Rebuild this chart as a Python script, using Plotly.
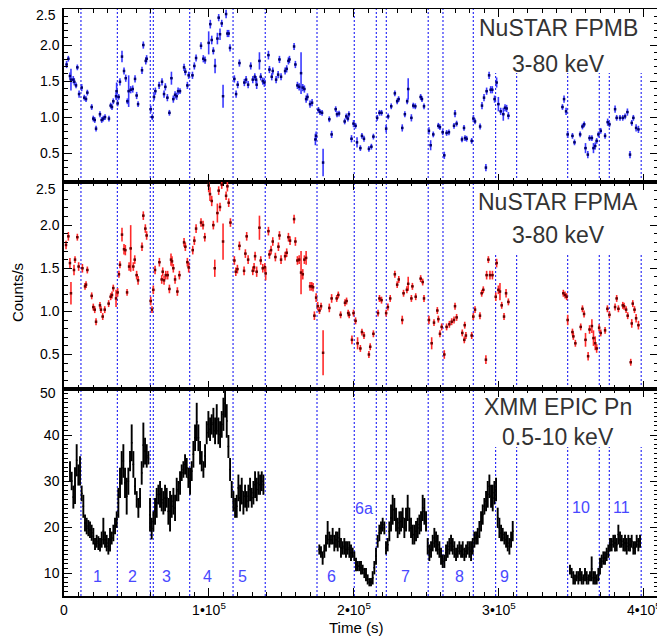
import numpy as np
import plotly.graph_objects as go
from plotly.subplots import make_subplots

# ---------------- NuSTAR FPMB (time in ks, counts/s, 1-sigma error) ----------------
fpmb_t = [1.8,3.0,4.1,4.8,6.4,7.1,8.3,9.2,10.4,12.2,14.0,15.2,16.1,19.1,20.2,21.2,22.1,24.8,26.0,27.1,28.3,31.0,32.2,33.1,34.0,35.9,36.3,37.0,37.7,38.6,
          40.0,41.4,42.6,43.7,44.6,46.0,47.4,49.0,50.1,51.1,53.8,54.7,56.4,57.0,59.8,60.9,62.1,63.0,65.6,67.6,69.0,69.9,71.3,72.7,74.1,75.4,76.6,77.7,78.7,80.0,
          82.8,83.7,85.1,86.0,88.6,89.9,91.1,94.5,96.1,97.3,99.8,100.9,101.9,103.0,104.2,105.8,106.7,107.6,108.8,109.7,111.8,112.7,113.6,114.5,
          117.5,118.7,119.8,121.0,124.4,125.6,127.0,128.8,130.2,131.6,132.5,132.9,134.8,135.7,137.1,138.2,141.0,141.7,143.3,144.0,146.3,147.7,148.6,149.7,
          152.5,153.6,154.8,155.5,158.7,159.6,161.0,162.2,163.5,164.7,165.8,167.0,167.9,169.7,171.1,173.4,173.9,175.5,176.6,178.0,178.7,
          183.0,184.6,187.4,188.3,189.7,193.6,194.7,195.8,196.5,198.3,199.7,201.1,202.1,204.4,205.5,206.9,210.3,212.0,213.4,216.0,217.6,219.0,
          222.2,223.6,225.7,228.2,229.8,230.8,233.3,235.1,236.7,237.4,239.6,240.9,242.3,246.0,246.9,248.3,251.7,252.9,254.7,258.2,259.3,261.2,262.3,263.9,265.5,
          269.0,269.7,270.8,274.5,275.9,276.6,277.7,281.2,282.4,283.5,287.0,288.3,289.7,291.0,291.5,293.2,294.3,295.4,297.0,298.4,299.6,301.2,303.0,304.2,305.3,306.5,
          343.8,344.9,346.3,347.4,350.7,352.1,356.0,357.6,358.8,359.7,361.3,362.5,364.1,365.2,366.4,367.4,368.6,370.2,373.2,375.0,376.2,
          380.1,381.2,383.5,385.4,387.0,388.6,390.4,391.6,392.7,394.6,396.2]
fpmb_v = [1.73,1.81,1.57,1.52,1.52,1.49,1.44,1.69,1.32,1.41,1.27,1.25,1.34,1.14,0.98,0.96,0.84,1.04,0.96,0.98,1.00,0.98,1.16,1.14,1.22,1.29,1.36,1.19,1.28,1.49,
          1.84,1.64,1.54,1.22,1.36,1.38,1.39,1.53,1.30,1.18,1.65,2.00,1.78,1.81,1.11,1.00,1.28,1.36,1.44,1.49,1.32,1.42,1.27,1.06,1.54,1.25,1.31,1.29,1.36,1.36,
          1.69,1.63,1.44,1.58,1.58,1.71,1.82,1.99,1.81,1.79,2.03,2.29,2.07,1.92,1.71,2.09,2.38,2.15,2.30,1.29,2.43,2.16,2.16,1.96,
          1.53,1.32,1.45,1.75,1.48,1.52,1.45,1.71,1.52,1.56,1.52,1.45,1.78,1.56,1.50,1.48,1.86,1.66,1.56,1.64,1.52,1.59,1.80,1.56,
          1.64,1.67,1.78,1.80,1.98,1.73,1.44,1.42,1.61,1.41,1.39,1.25,1.28,1.18,1.20,0.69,0.74,1.10,1.07,1.06,0.37,
          0.97,0.76,1.11,1.04,1.05,0.94,1.01,0.98,1.04,0.70,0.91,0.88,0.65,0.57,0.74,0.70,0.56,0.59,0.73,0.99,1.06,1.06,
          0.84,1.01,1.15,1.33,1.22,1.25,0.85,1.04,1.22,1.39,0.99,1.16,1.15,1.28,1.25,1.15,0.81,0.61,0.76,0.88,0.86,0.79,0.47,0.78,0.79,
          0.88,1.05,0.91,0.69,0.85,0.71,0.70,0.67,0.98,0.94,0.87,1.16,1.27,0.30,1.36,1.58,1.38,1.38,1.25,1.48,1.18,1.08,1.04,1.13,1.12,1.02,
          1.14,1.25,1.08,0.76,0.74,0.65,0.76,0.87,0.90,0.57,0.48,0.71,0.71,0.57,0.60,0.67,0.76,0.81,0.74,0.93,0.90,
          1.11,0.99,0.99,0.99,1.01,1.07,0.48,0.92,0.99,0.85,0.83]
fpmb_e = [.05,.04,.05,.15,.05,.05,.04,.04,.05,.05,.04,.04,.04,.04,.04,.04,.04,.04,.04,.04,.04,.04,.04,.04,.04,.05,.12,.04,.04,.05,
          .08,.05,.05,.04,.22,.05,.05,.05,.05,.04,.05,.05,.05,.05,.05,.04,.05,.05,.05,.05,.05,.05,.05,.04,.09,.05,.05,.05,.05,.04,
          .05,.05,.05,.05,.05,.05,.05,.05,.05,.05,.16,.06,.06,.05,.10,.08,.05,.08,.05,.16,.06,.05,.05,.05,
          .05,.05,.05,.05,.05,.05,.05,.05,.05,.05,.05,.06,.12,.05,.05,.06,.06,.05,.05,.05,.05,.05,.05,.05,
          .05,.05,.05,.05,.05,.05,.05,.05,.29,.05,.05,.05,.05,.05,.05,.08,.06,.04,.04,.04,.19,
          .04,.05,.04,.04,.04,.04,.04,.04,.04,.05,.05,.04,.07,.04,.04,.04,.04,.04,.04,.04,.04,.04,
          .05,.04,.04,.04,.04,.04,.05,.04,.04,.15,.05,.04,.04,.04,.04,.04,.05,.07,.04,.04,.04,.04,.05,.04,.04,
          .04,.05,.04,.04,.04,.04,.04,.04,.05,.04,.04,.05,.05,.05,.05,.05,.05,.05,.05,.07,.10,.05,.09,.05,.05,.05,
          .04,.05,.05,.05,.04,.04,.04,.04,.04,.07,.05,.04,.04,.07,.05,.04,.04,.04,.04,.05,.04,
          .05,.04,.04,.04,.04,.05,.05,.04,.04,.05,.05]

# ---------------- NuSTAR FPMA ----------------
fpma_t = [1.4,3.0,4.1,4.8,6.9,7.6,9.2,10.1,12.7,14.5,15.2,16.1,19.1,20.2,21.2,22.1,24.8,25.5,26.7,28.1,30.8,32.2,33.1,34.0,35.9,37.0,37.9,38.6,
          40.0,41.4,42.3,43.5,44.9,46.0,47.8,48.8,50.1,51.1,53.8,54.7,56.1,57.0,59.8,60.7,61.6,62.8,65.8,67.4,68.1,69.0,70.2,71.5,72.7,73.8,74.5,75.4,76.6,78.2,79.6,
          82.8,83.7,85.1,86.0,88.8,89.9,91.1,94.5,95.9,97.1,99.8,100.7,101.9,103.0,104.0,105.8,106.7,107.6,108.8,109.7,111.8,112.7,113.6,114.8,
          117.5,118.5,119.6,121.0,124.2,125.1,126.0,127.0,130.2,131.1,131.8,132.9,134.8,135.7,137.1,138.5,139.1,141.0,141.7,142.8,144.0,145.8,147.9,148.6,149.7,
          152.5,153.6,154.8,155.9,158.7,159.6,161.0,162.2,163.5,164.7,165.8,167.0,169.7,170.9,171.8,172.7,173.9,175.0,176.2,177.3,178.7,
          183.0,184.6,188.1,189.2,190.8,193.8,194.9,196.0,196.7,198.6,199.7,201.1,202.5,204.4,205.5,206.9,210.3,211.2,213.4,216.6,217.6,219.0,
          222.2,223.4,225.0,228.2,229.8,230.9,233.3,234.2,236.5,237.4,239.6,240.3,242.6,246.0,247.4,248.3,251.7,253.6,255.2,257.5,258.2,259.3,260.5,262.3,263.9,265.8,267.4,
          269.0,269.7,270.8,274.7,276.1,276.4,277.2,281.2,282.3,283.5,286.9,288.1,289.2,291.0,291.5,292.7,293.8,295.5,297.8,298.4,299.6,300.7,301.9,303.5,304.9,306.5,
          344.4,345.6,346.7,347.4,350.7,351.3,352.7,356.4,357.6,358.7,359.7,361.5,362.5,364.1,365.2,366.4,367.4,369.1,370.2,373.2,374.8,376.2,
          380.1,381.2,382.4,385.4,386.3,387.7,388.8,390.9,391.6,392.3,393.5,394.6,396.2]
fpma_v = [1.77,1.87,1.56,1.21,1.48,1.60,1.86,1.52,1.50,1.29,1.31,1.48,1.18,1.05,1.02,0.88,1.07,1.02,0.94,1.02,1.09,1.17,1.19,1.27,1.15,1.22,1.43,1.54,
          1.89,1.72,1.71,1.22,1.52,1.73,1.52,1.60,1.42,1.36,1.75,2.11,1.96,1.88,1.12,1.02,1.25,1.48,1.57,1.37,1.46,1.36,1.42,1.42,1.26,1.60,1.58,1.50,1.37,1.23,1.42,
          1.80,1.75,1.57,1.51,1.71,1.82,1.96,2.03,2.00,1.86,2.46,2.36,2.28,2.00,1.50,2.14,2.40,2.21,2.47,1.81,2.34,2.45,2.26,2.03,
          1.59,1.46,1.49,1.76,1.47,1.67,1.87,1.60,1.47,1.51,1.64,1.46,1.97,1.59,1.50,1.51,1.44,1.93,1.66,1.71,1.81,1.63,1.75,1.88,1.60,
          1.64,1.68,1.86,1.82,2.07,1.81,1.59,1.60,1.45,1.43,1.60,1.62,1.29,1.29,1.28,0.95,1.16,1.06,1.01,1.06,0.52,
          1.04,1.15,1.15,1.19,0.96,1.10,1.12,0.98,0.96,0.67,0.98,0.89,0.63,0.57,0.76,0.72,0.50,0.59,0.74,0.98,1.15,1.13,
          0.98,1.05,1.15,1.43,1.31,1.37,0.90,1.21,1.25,1.32,1.15,1.29,1.17,1.38,1.34,1.15,0.90,0.63,0.87,1.01,0.91,0.74,0.82,0.50,0.82,0.85,0.88,
          0.90,1.06,0.93,0.75,0.67,0.84,0.72,0.72,0.94,1.02,0.95,1.21,1.25,0.44,1.42,1.60,1.42,1.42,1.17,1.56,1.25,1.23,1.07,0.94,1.21,1.11,
          1.21,1.19,1.17,0.90,0.76,0.71,0.63,0.82,1.03,0.97,0.67,0.48,0.79,0.83,0.69,0.63,0.57,0.81,0.75,0.78,1.03,0.96,
          1.05,1.15,1.03,1.07,1.06,1.02,0.95,0.41,0.86,1.09,1.02,0.92,0.84]
fpma_e = [.05,.05,.06,.13,.06,.04,.04,.05,.05,.04,.04,.04,.04,.04,.04,.04,.04,.04,.04,.04,.04,.04,.04,.04,.10,.05,.04,.04,
          .08,.06,.06,.04,.05,.27,.05,.05,.05,.05,.05,.05,.05,.05,.05,.04,.05,.05,.05,.05,.05,.05,.05,.05,.05,.07,.06,.05,.05,.05,.05,
          .05,.05,.05,.06,.05,.05,.05,.05,.05,.05,.08,.08,.06,.05,.10,.11,.05,.05,.05,.21,.05,.06,.05,.05,
          .05,.05,.05,.05,.05,.05,.05,.05,.05,.05,.05,.06,.14,.05,.05,.05,.08,.05,.05,.05,.05,.05,.05,.05,.05,
          .05,.05,.05,.05,.05,.05,.05,.05,.25,.06,.05,.08,.05,.05,.05,.05,.05,.05,.04,.04,.26,
          .05,.05,.04,.04,.04,.04,.04,.04,.04,.05,.04,.04,.07,.04,.04,.04,.04,.04,.04,.04,.04,.04,
          .04,.04,.04,.04,.04,.04,.05,.04,.04,.08,.04,.04,.04,.04,.04,.04,.05,.07,.04,.04,.04,.04,.04,.05,.04,.04,.04,
          .04,.04,.04,.04,.04,.04,.04,.04,.04,.04,.04,.04,.04,.05,.05,.04,.05,.05,.05,.05,.05,.10,.04,.04,.05,.04,
          .04,.04,.04,.06,.04,.04,.04,.04,.04,.04,.08,.05,.05,.08,.09,.08,.05,.04,.04,.04,.04,.04,
          .04,.04,.04,.04,.04,.04,.04,.04,.05,.04,.04,.05,.05]

# ---------------- XMM EPIC pn: three exposures, bins of 1.15 ks, upper / lower envelope ----------------
xmm_seg_start_s = [4140, 176100, 349000]
xmm_bin_s = 1150
xmm_hi_1 = [34.3,32.0,29.0,33.0,38.0,33.6,35.4,29.0,27.0,22.7,22.0,21.5,21.2,20.5,19.8,17.6,18.3,18.0,17.6,19.0,22.0,19.0,18.3,17.6,19.8,19.0,20.5,22.0,23.4,28.5,
            32.9,36.5,38.0,32.9,30.7,32.9,36.5,42.3,36.5,30.7,27.8,26.3,28.5,34.3,42.7,39.4,38.0,36.5,26.3,22.0,23.4,26.3,28.5,29.2,30.0,28.5,27.8,29.2,28.5,26.3,
            27.8,27.0,28.5,27.0,30.7,30.0,32.1,33.6,34.3,35.8,35.0,32.9,32.9,34.3,38.7,42.3,47.0,42.3,38.7,36.5,34.3,38.0,43.0,45.2,43.8,44.5,45.9,43.8,46.7,43.8,
            43.0,45.2,48.1,50.0,46.7,40.0,35.0,30.0,27.8,26.3,27.0,31.4,29.2,30.7,27.8,29.2,27.8,29.2,30.7,28.5,30.0,32.1,30.7,32.1,31.4,32.1,31.4]
xmm_lo_1 = [30.0,28.0,24.0,25.0,31.0,29.0,29.0,25.6,22.0,19.0,18.4,18.0,17.6,17.0,16.2,15.0,15.5,15.0,14.7,15.5,16.2,15.5,14.7,14.0,14.7,16.2,16.9,18.4,19.8,22.0,
            26.3,29.2,30.7,26.3,22.7,27.0,32.1,34.3,30.7,27.0,24.2,22.0,24.2,29.2,32.9,33.6,32.9,33.6,19.0,17.3,19.0,20.5,22.0,24.9,24.2,23.4,22.7,23.4,24.2,20.5,
            19.0,22.0,22.7,21.3,25.6,25.6,27.0,30.0,30.7,31.4,30.7,28.5,27.0,30.0,32.9,36.5,38.7,36.5,33.6,32.1,30.7,32.9,38.0,39.4,38.7,40.1,39.4,38.0,40.1,38.0,
            37.2,39.4,40.9,43.8,39.4,35.0,30.0,26.3,23.4,22.0,22.0,25.6,23.4,24.9,22.7,24.2,23.4,24.2,25.6,24.2,24.9,26.3,25.6,27.0,27.0,27.8,27.0]
xmm_hi_2 = [16.2,15.8,14.7,16.2,18.3,21.3,19.0,18.3,19.8,18.3,19.0,19.0,19.8,17.6,16.9,17.6,16.9,16.9,16.9,16.2,15.5,14.7,13.3,12.6,12.6,12.6,11.8,11.1,11.1,9.7,
            8.9,8.9,10.4,12.6,15.5,18.3,20.5,21.2,22.0,21.2,16.9,17.6,21.2,24.9,27.0,26.3,24.2,22.0,23.4,23.4,24.2,22.0,24.2,27.0,24.2,22.0,20.5,20.5,21.3,22.0,
            22.7,23.4,27.0,26.3,23.4,17.6,16.2,16.9,18.3,19.8,19.0,18.3,16.9,15.5,14.0,14.0,16.2,16.9,17.6,18.3,17.6,16.9,15.5,16.2,16.9,16.2,16.9,15.5,16.2,16.9,
            16.9,16.9,17.6,19.0,19.0,19.8,21.3,23.4,24.9,26.3,27.8,30.0,31.4,29.2,29.2,30.0,30.7,24.2,22.0,20.5,19.8,19.0,19.0,18.3,17.6,19.0,21.3]
xmm_lo_2 = [14.0,13.3,11.8,13.3,14.7,16.2,15.5,16.2,16.2,14.7,15.5,14.7,15.5,13.3,14.0,14.0,13.3,14.0,13.3,12.6,13.3,12.6,10.4,10.4,10.4,9.7,9.7,8.9,8.2,7.5,
            7.1,7.1,7.5,9.7,11.8,15.5,16.9,18.4,19.0,18.4,14.0,14.7,16.9,19.0,20.5,21.3,19.0,17.6,18.4,19.0,19.8,17.6,19.0,21.3,19.0,17.6,16.2,16.2,16.9,17.6,
            18.4,19.0,21.3,20.5,19.0,14.0,12.6,13.3,14.7,15.5,14.7,14.0,13.3,11.8,11.1,11.1,12.6,13.3,14.0,14.7,14.0,13.3,12.6,13.3,14.0,13.3,13.3,12.6,13.3,14.0,
            13.3,12.6,14.0,15.5,16.2,16.2,17.6,19.0,20.5,22.7,23.4,24.2,26.3,24.2,23.4,24.9,25.6,19.8,17.6,16.9,16.9,16.2,15.5,14.7,14.0,15.5,16.9]
xmm_hi_3 = [11.8,11.1,10.4,9.7,10.4,10.4,11.1,10.4,9.7,11.1,10.4,9.7,10.4,13.6,10.4,10.4,9.7,11.1,13.3,14.0,14.7,14.7,15.5,16.2,17.6,17.6,18.3,18.3,17.6,20.5,
            19.0,18.3,17.6,18.3,17.6,18.3,17.6,18.3,16.9,16.9,18.3,17.6,18.3]
xmm_lo_3 = [9.7,8.9,7.5,7.5,8.2,7.5,8.2,7.5,7.5,8.2,7.5,7.5,8.2,8.2,7.5,7.5,7.5,8.2,9.7,11.1,11.8,11.8,12.6,13.3,14.7,14.7,15.5,14.7,14.7,16.2,
            15.5,15.5,14.7,14.7,14.0,14.7,14.7,15.5,14.0,14.0,15.5,14.7,15.5]

# ---------------- interval boundaries and labels ----------------
boundaries_ks = [11.7, 36.8, 59.5, 61.6, 86.7, 116.6, 138.8, 174.5, 200.2, 215.4, 222.3, 251.2, 261.4,
                 282.3, 297.7, 312.2, 347.4, 369.2, 376.1, 398.1]
interval_labels = ["1", "2", "3", "4", "5", "6", "6a", "7", "8", "9", "10", "11"]
interval_label_t_ks = [23.4, 46.9, 71.0, 99.3, 123.4, 184.8, 206.9, 235.2, 273.1, 304.1, 356.4, 384.8]
interval_label_y = [9.3, 9.3, 9.3, 9.3, 9.3, 9.3, 24.0, 9.3, 9.3, 9.3, 24.3, 24.3]

x_tickvals = [0, 1e5, 2e5, 3e5, 4e5]
x_ticktext = ["0", "1•10<sup>5</sup>", "2•10<sup>5</sup>", "3•10<sup>5</sup>", "4•10<sup>5</sup>"]
nustar_tickvals = [0.5, 1.0, 1.5, 2.0, 2.5]
nustar_ticktext = ["0.5", "1.0", "1.5", "2.0", ""]      # top label drawn separately, nudged down
xmm_tickvals = [10, 20, 30, 40, 50]
xmm_ticktext = ["10", "20", "30", "40", ""]

FONT = "Liberation Sans, Arial, Helvetica, sans-serif"
LINE_BLUE = "#1c1cf5"
LABEL_BLUE = "#4848ff"

fig = make_subplots(rows=3, cols=1, shared_xaxes=True, vertical_spacing=0,
                    row_heights=[173, 207, 207])

def nustar_trace(t, v, e, bar_color, core_color):
    return go.Scatter(
        x=np.array(t) * 1000, y=v, mode="markers",
        marker=dict(symbol="square", size=2.5, color=core_color, line=dict(width=0)),
        error_y=dict(type="data", array=e, color=bar_color, thickness=1.6, width=0),
        error_x=dict(type="constant", value=650, color=core_color, thickness=1.2, width=0),
        showlegend=False, hoverinfo="skip")

fig.add_trace(nustar_trace(fpmb_t, fpmb_v, fpmb_e, "#3a3aff", "#000070"), row=1, col=1)
fig.add_trace(nustar_trace(fpma_t, fpma_v, fpma_e, "#ff2a2a", "#700000"), row=2, col=1)

for start, hi, lo in zip(xmm_seg_start_s, [xmm_hi_1, xmm_hi_2, xmm_hi_3], [xmm_lo_1, xmm_lo_2, xmm_lo_3]):
    hi = np.array(hi); lo = np.array(lo)
    t = start + xmm_bin_s * np.arange(len(hi))
    fig.add_trace(go.Scatter(
        x=t, y=(hi + lo) / 2, mode="markers",
        marker=dict(symbol="square", size=1.5, color="black"),
        error_y=dict(type="data", array=(hi - lo) / 2, color="black", thickness=1.9, width=0),
        error_x=dict(type="constant", value=450, color="black", thickness=1, width=0),
        showlegend=False, hoverinfo="skip"), row=3, col=1)

# dotted interval boundaries (stopping under the panel captions on the right)
caption_cut = {1: 0.63, 2: 0.657, 3: 0.72}
for r in (1, 2, 3):
    yref = "y domain" if r == 1 else f"y{r} domain"
    xref = "x" if r == 1 else f"x{r}"
    for b in boundaries_ks:
        top = caption_cut[r] if b > 285 else 1
        fig.add_shape(type="line", xref=xref, yref=yref, x0=b * 1000, x1=b * 1000, y0=0, y1=top,
                      line=dict(color=LINE_BLUE, width=1.1, dash="2px,2px"), layer="below")

for lab, tx, ty in zip(interval_labels, interval_label_t_ks, interval_label_y):
    fig.add_annotation(x=tx * 1000, y=ty, xref="x3", yref="y3", text=lab, showarrow=False,
                       font=dict(family=FONT, size=16, color=LABEL_BLUE))

captions = [("NuSTAR FPMB", "3-80 keV", 1, 2.24, 1.74),
            ("NuSTAR FPMA", "3-80 keV", 2, 2.27, 1.88),
            ("XMM EPIC Pn", "0.5-10 keV", 3, 46.0, 39.6)]
for l1, l2, r, y1, y2 in captions:
    xr = "x" if r == 1 else f"x{r}"
    yr = "y" if r == 1 else f"y{r}"
    fig.add_annotation(x=341000, y=y1, xref=xr, yref=yr, text=l1, showarrow=False,
                       font=dict(family=FONT, size=23, color="#333333"))
    fig.add_annotation(x=341000, y=y2, xref=xr, yref=yr, text=l2, showarrow=False,
                       font=dict(family=FONT, size=23, color="#333333"))

# top tick labels of each panel, nudged below their ticks as in the original
for txt, ypaper in [("2.5", 0.9898), ("2.5", 0.6934), ("50", 0.3458)]:
    fig.add_annotation(text=txt, xref="paper", yref="paper", x=-0.0101, y=ypaper,
                       xanchor="right", yanchor="middle", showarrow=False,
                       font=dict(family=FONT, size=14, color="black"))

axis_common = dict(showline=True, linecolor="black", linewidth=1.5, mirror="allticks",
                   ticks="inside", ticklen=8, tickwidth=1.2, tickcolor="black",
                   showgrid=False, zeroline=False, automargin=False,
                   tickfont=dict(family=FONT, size=14, color="black"))

fig.update_xaxes(range=[0, 409700], tickvals=x_tickvals, ticktext=x_ticktext,
                 minor=dict(ticks="inside", ticklen=4, dtick=1e4, tickcolor="black", tickwidth=1),
                 **axis_common)
fig.update_xaxes(showticklabels=False, row=1, col=1)
fig.update_xaxes(showticklabels=False, row=2, col=1)
fig.update_xaxes(showticklabels=True, row=3, col=1)

for r in (1, 2):
    fig.update_yaxes(range=[0.1, 2.5], tickvals=nustar_tickvals, ticktext=nustar_ticktext,
                     minor=dict(ticks="inside", ticklen=4, dtick=0.1, tickcolor="black", tickwidth=1),
                     row=r, col=1, **axis_common)
fig.update_yaxes(range=[5, 50], tickvals=xmm_tickvals, ticktext=xmm_ticktext,
                 minor=dict(ticks="inside", ticklen=4, dtick=1, tickcolor="black", tickwidth=1),
                 row=3, col=1, **axis_common)

fig.add_annotation(text="Counts/s", xref="paper", yref="paper", x=-0.0791, y=0.516,
                   xanchor="center", yanchor="middle",
                   textangle=-90, showarrow=False, font=dict(family=FONT, size=15, color="black"))
fig.add_annotation(text="Time (s)", xref="paper", yref="paper", x=0.4916, y=-0.0545,
                   xanchor="center", yanchor="middle",
                   showarrow=False, font=dict(family=FONT, size=15, color="black"))

# the page places the figure 8 px from the window's top-left corner; margins compensate
fig.update_layout(width=665, height=640, margin=dict(l=56, r=15, t=1, b=52),
                  plot_bgcolor="white", paper_bgcolor="white",
                  font=dict(family=FONT))

fig.write_html("out.html")
